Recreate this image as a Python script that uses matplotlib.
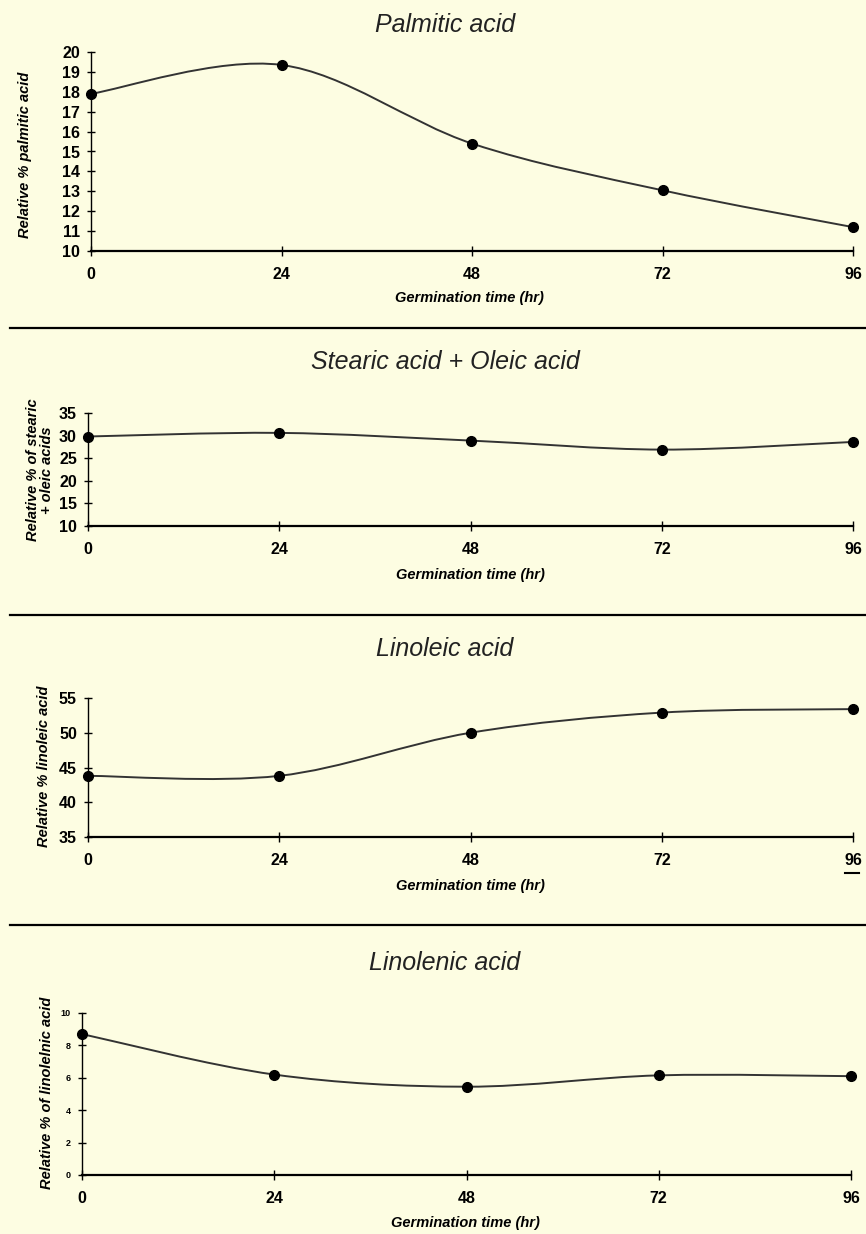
import numpy as np
import matplotlib
matplotlib.use("Agg")
import matplotlib.pyplot as plt
from matplotlib.path import Path
from matplotlib.patches import PathPatch
from matplotlib.lines import Line2D

plt.rcParams['font.family'] = ['Liberation Sans', 'DejaVu Sans']
narrow = ['Liberation Sans Narrow', 'Liberation Sans', 'DejaVu Sans']

# germination time (hr) and relative % of each fatty acid
hours = [0, 24, 48, 72, 96]
palmitic = [17.9, 19.35, 15.4, 13.05, 11.2]
stearic_oleic = [29.8, 30.6, 28.9, 26.9, 28.6]
linoleic = [43.8, 43.8, 50.0, 52.9, 53.4]
linolenic = [8.7, 6.2, 5.45, 6.15, 6.1]

titles = ["Palmitic acid", "Stearic acid + Oleic acid", "Linoleic acid", "Linolenic acid"]
ylabels = ["Relative % palmitic acid", "Relative % of stearic\n+ oleic acids",
           "Relative % linoleic acid", "Relative % of linolelnic acid"]
xlabel = "Germination time (hr)"
yticks = [list(range(10, 21)), list(range(10, 36, 5)), list(range(35, 56, 5)), list(range(0, 11, 2))]
series = [palmitic, stearic_oleic, linoleic, linolenic]

W, H = 866, 1234
bg = '#fdfde2'
fig = plt.figure(figsize=(W / 100, H / 100), dpi=100, facecolor=bg)

# layout in pixels: (x0, x1, y_top, y_bottom)
boxes = [(91, 853, 52, 251), (88, 853, 413, 526), (88, 853, 698, 837), (82, 851, 1013, 1175)]
title_y = [25, 362, 649, 963]
xlab_pos = [(469, 298), (470, 575), (470, 886), (465, 1223)]
ylab_pos = [(25, 155), (40, 470), (44, 766), (47, 1093)]
ytick_size = [11.5, 11.5, 11.5, 6.5]
sep_y = [328, 615, 925]


def smooth_path(ax, xs, ys):
    # excel-like smoothed line: bezier control points computed in display space
    pts = ax.transData.transform(np.column_stack([xs, ys]))
    n = len(pts)
    verts = [pts[0]]
    codes = [Path.MOVETO]
    for i in range(n - 1):
        p0 = pts[max(i - 1, 0)]
        p1 = pts[i]
        p2 = pts[i + 1]
        p3 = pts[min(i + 2, n - 1)]
        c1 = p1 + (p2 - p0) / 6.0
        c2 = p2 - (p3 - p1) / 6.0
        verts += [c1, c2, p2]
        codes += [Path.CURVE4] * 3
    verts = ax.transData.inverted().transform(np.array(verts))
    return Path(verts, codes)


for k in range(4):
    x0, x1, yt, yb = boxes[k]
    ax = fig.add_axes([x0 / W, 1 - yb / H, (x1 - x0) / W, (yb - yt) / H])
    ax.set_facecolor('none')
    ax.set_xlim(0, 96)
    ax.set_ylim(yticks[k][0], yticks[k][-1])
    ax.set_xticks(hours)
    ax.set_yticks(yticks[k])
    for s in ['top', 'right']:
        ax.spines[s].set_visible(False)
    ax.spines['left'].set_linewidth(1.0)
    ax.spines['bottom'].set_linewidth(1.6)
    ax.tick_params(axis='y', direction='inout', length=6, width=1.0, pad=5,
                   labelsize=ytick_size[k])
    ax.tick_params(axis='x', direction='inout', length=7, width=1.0, pad=8, labelsize=11.5)
    for lab in ax.get_xticklabels() + ax.get_yticklabels():
        lab.set_fontweight('bold')
        lab.set_family(narrow)

    patch = PathPatch(smooth_path(ax, hours, series[k]), facecolor='none',
                      edgecolor='#333333', lw=1.4, clip_on=False)
    ax.add_patch(patch)
    ax.plot(hours, series[k], 'o', color='black', markersize=7, clip_on=False, zorder=5)

    fig.text(445 / W, 1 - title_y[k] / H, titles[k], ha='center', va='center',
             fontsize=18, style='italic', color='#222222')
    fig.text(xlab_pos[k][0] / W, 1 - xlab_pos[k][1] / H, xlabel, ha='center', va='center',
             fontsize=10.5, style='italic', fontweight='bold')
    fig.text(ylab_pos[k][0] / W, 1 - ylab_pos[k][1] / H, ylabels[k], ha='center', va='center',
             rotation=90, fontsize=10.5, style='italic', fontweight='bold', linespacing=1.0)

for y in sep_y:
    fig.add_artist(Line2D([0.012, 1.0], [1 - y / H, 1 - y / H], transform=fig.transFigure,
                          color='black', lw=1.6))

# small pen mark under the "96" of the linoleic panel
fig.add_artist(Line2D([845 / W, 859 / W], [1 - 873 / H, 1 - 873 / H], transform=fig.transFigure,
                      color='black', lw=1.5))

fig.savefig("out.png", dpi=100, facecolor=bg)
